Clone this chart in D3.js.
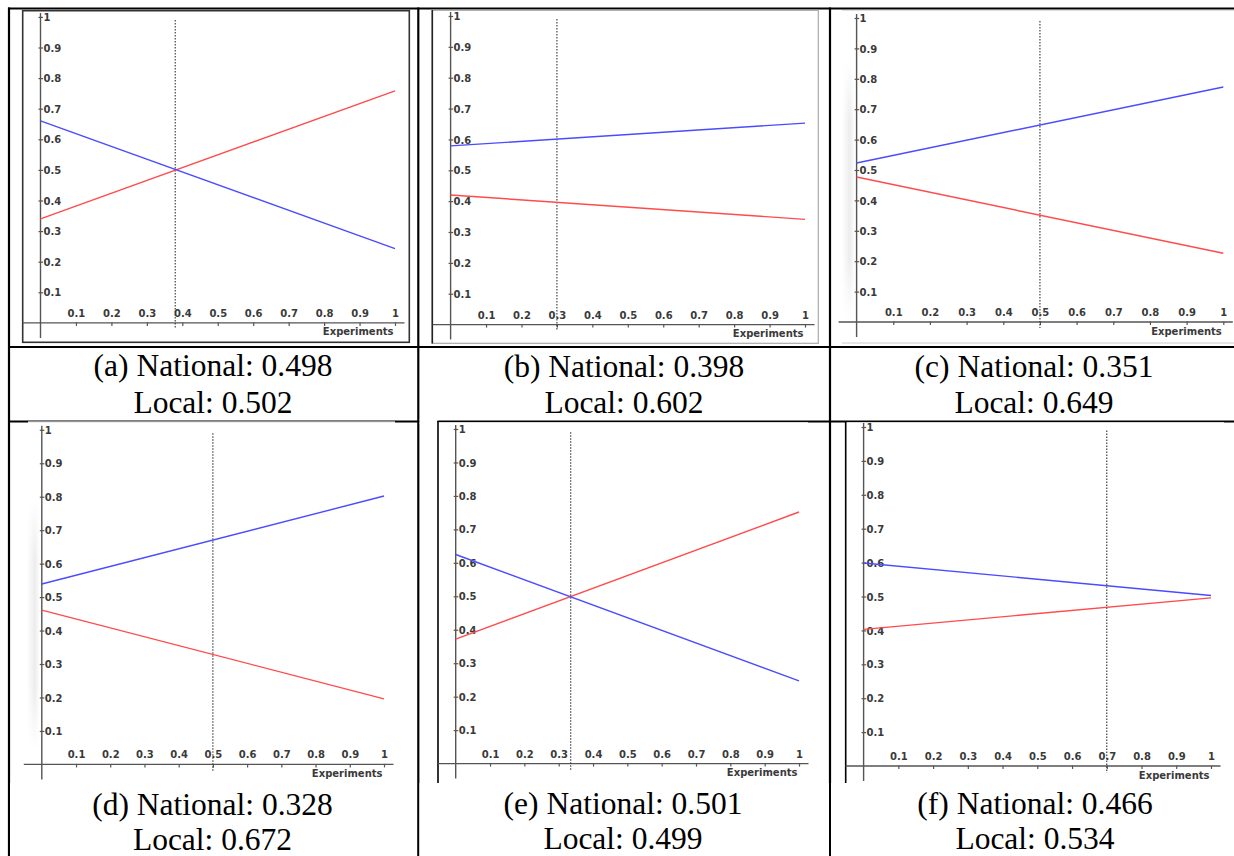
<!DOCTYPE html>
<html>
<head>
<meta charset="utf-8">
<script src="https://cdn.jsdelivr.net/npm/d3@7"></script>
<style>
  body { margin: 0; background: #fff; }
  svg { display: block; }
</style>
</head>
<body>
<svg></svg>
<script>
// values
const panelIds = ["a", "b", "c", "d", "e", "f"];
const nationalScore = [0.498, 0.398, 0.351, 0.328, 0.501, 0.466];
const localScore = [0.502, 0.602, 0.649, 0.672, 0.499, 0.534];
const splitAt = [0.38, 0.30, 0.50, 0.50, 0.335, 0.70];
const redStart = [0.34, 0.42, 0.477, 0.461, 0.372, 0.403];
const redEnd = [0.758, 0.341, 0.226, 0.196, 0.752, 0.496];
const blueStart = [0.66, 0.579, 0.523, 0.539, 0.625, 0.599];
const blueEnd = [0.243, 0.653, 0.773, 0.802, 0.247, 0.503];
const xTicks = [0.1, 0.2, 0.3, 0.4, 0.5, 0.6, 0.7, 0.8, 0.9, 1];
const yTicks = [0.1, 0.2, 0.3, 0.4, 0.5, 0.6, 0.7, 0.8, 0.9, 1];
const xLabel = "Experiments";

const width = 1234;
const height = 856;
const svg = d3.select("svg")
    .attr("width", width)
    .attr("height", height);

// pixel layout of each plot: where x=0..1 and y=0..1 land
const layout = [
    { px: [40.5, 395], py: [322.9, 16.9], cx: 213, base: [376, 413] },
    { px: [450.6, 805], py: [324.6, 16], cx: 624, base: [376.5, 413] },
    { px: [856.6, 1223.3], py: [322, 18], cx: 1034, base: [376.5, 413] },
    { px: [41.8, 384], py: [764.4, 429.8], cx: 212.5, base: [815, 849.5] },
    { px: [455.7, 799], py: [763.6, 429], cx: 623, base: [813.5, 848.5] },
    { px: [863.6, 1211], py: [766, 427], cx: 1035, base: [813.5, 849] }
];

const black = "#000";

const defs = svg.append("defs");
const shade = defs.append("linearGradient").attr("id", "shade")
    .attr("x1", 0).attr("x2", 1).attr("y1", 0).attr("y2", 0);
shade.append("stop").attr("offset", 0).attr("stop-color", "#fff");
shade.append("stop").attr("offset", 0.6).attr("stop-color", "#ececec");
shade.append("stop").attr("offset", 1).attr("stop-color", "#fff");
const fadeV = defs.append("linearGradient").attr("id", "fadeV")
    .attr("x1", 0).attr("x2", 0).attr("y1", 0).attr("y2", 1);
fadeV.append("stop").attr("offset", 0).attr("stop-color", "#fff").attr("stop-opacity", 1);
fadeV.append("stop").attr("offset", 0.25).attr("stop-color", "#fff").attr("stop-opacity", 0);
fadeV.append("stop").attr("offset", 0.75).attr("stop-color", "#fff").attr("stop-opacity", 0);
fadeV.append("stop").attr("offset", 1).attr("stop-color", "#fff").attr("stop-opacity", 1);

// table grid
const grid = svg.append("g");
grid.append("line").attr("x1", 8).attr("x2", width).attr("y1", 8.5).attr("y2", 8.5)
    .attr("stroke", black).attr("stroke-width", 2);
grid.append("line").attr("x1", 8).attr("x2", width).attr("y1", 347).attr("y2", 347)
    .attr("stroke", black).attr("stroke-width", 2.2);
grid.append("line").attr("x1", 8).attr("x2", width).attr("y1", 421.5).attr("y2", 421.5)
    .attr("stroke", black).attr("stroke-width", 2.2);
[9, 418.3, 830].forEach(x => {
    grid.append("line").attr("x1", x).attr("x2", x).attr("y1", 7.5).attr("y2", height)
        .attr("stroke", black).attr("stroke-width", 2.2);
});

// screenshot frames around each plot
const frames = svg.append("g");
// (a)
frames.append("rect").attr("x", 22.7).attr("y", 10.7).attr("width", 386.6).attr("height", 331.6)
    .attr("fill", "#fff").attr("stroke", "#333").attr("stroke-width", 1.6);
// (b)
frames.append("rect").attr("x", 432.3).attr("y", 10.3).attr("width", 386).attr("height", 333)
    .attr("fill", "#fff").attr("stroke", "#aaa").attr("stroke-width", 1.2);
frames.append("line").attr("x1", 432.3).attr("x2", 432.3).attr("y1", 10).attr("y2", 343.5)
    .attr("stroke", "#222").attr("stroke-width", 1.6);
// (c)
frames.append("rect").attr("x", 842).attr("y", 10).attr("width", 392).attr("height", 333)
    .attr("fill", "#fff").attr("stroke", "none");
frames.append("rect").attr("x", 842).attr("y", 60).attr("width", 13).attr("height", 260)
    .attr("fill", "url(#shade)");
frames.append("rect").attr("x", 842).attr("y", 60).attr("width", 13).attr("height", 260)
    .attr("fill", "url(#fadeV)");
frames.append("line").attr("x1", 842).attr("x2", width).attr("y1", 10.5).attr("y2", 10.5)
    .attr("stroke", "#ddd");
frames.append("line").attr("x1", 842).attr("x2", width).attr("y1", 343).attr("y2", 343)
    .attr("stroke", "#ccc");
// (d)
frames.append("rect").attr("x", 28).attr("y", 421.7).attr("width", 367).attr("height", 434)
    .attr("fill", "#fff");
frames.append("rect").attr("x", 27).attr("y", 500).attr("width", 13).attr("height", 250)
    .attr("fill", "url(#shade)");
frames.append("rect").attr("x", 27).attr("y", 500).attr("width", 13).attr("height", 250)
    .attr("fill", "url(#fadeV)");
frames.append("line").attr("x1", 28).attr("x2", 395).attr("y1", 422).attr("y2", 422)
    .attr("stroke", "#ddd");
// (e)
frames.append("rect").attr("x", 419.5).attr("y", 419.5).attr("width", 18).attr("height", 4)
    .attr("fill", "#fff");
frames.append("rect").attr("x", 438).attr("y", 422.3).attr("width", 370).attr("height", 361)
    .attr("fill", "#fff");
frames.append("line").attr("x1", 438).attr("x2", 808).attr("y1", 422.5).attr("y2", 422.5)
    .attr("stroke", "#ddd");
frames.append("line").attr("x1", 438).attr("x2", 438).attr("y1", 421).attr("y2", 783)
    .attr("stroke", black).attr("stroke-width", 1.6);
frames.append("rect").attr("x", 419.5).attr("y", 783).attr("width", 409.5).attr("height", 73)
    .attr("fill", "#fff");
// (f)
frames.append("rect").attr("x", 846.5).attr("y", 422.3).attr("width", 377.5).attr("height", 361)
    .attr("fill", "#fff");
frames.append("line").attr("x1", 845.7).attr("x2", 845.7).attr("y1", 421).attr("y2", 783)
    .attr("stroke", black).attr("stroke-width", 1.6);
frames.append("rect").attr("x", 831).attr("y", 783).attr("width", 403).attr("height", 73)
    .attr("fill", "#fff");
frames.append("rect").attr("x", 10).attr("y", 783).attr("width", 407).attr("height", 73)
    .attr("fill", "#fff");

const axisColor = "#555";
const tickFont = "DejaVu Sans, Verdana, sans-serif";
const labelStyle = sel => sel
    .style("font-family", tickFont).style("font-size", "10px")
    .style("font-weight", "bold").attr("fill", "#3a3a3a");

panelIds.forEach((id, i) => {
    const L = layout[i];
    const x = d3.scaleLinear().domain([0, 1]).range(L.px);
    const y = d3.scaleLinear().domain([0, 1]).range(L.py);
    const g = svg.append("g");

    // axis lines
    g.append("line")
        .attr("x1", x(0) - 18).attr("x2", x(1) + 9.5)
        .attr("y1", y(0)).attr("y2", y(0))
        .attr("stroke", axisColor).attr("stroke-width", 1.4);
    g.append("line")
        .attr("x1", x(0)).attr("x2", x(0))
        .attr("y1", y(1) - 4).attr("y2", y(0) + 15)
        .attr("stroke", axisColor).attr("stroke-width", 1.4);

    // x axis: labels above the line, ticks below
    const xAxis = g.append("g")
        .attr("transform", `translate(0,${y(0)})`)
        .call(d3.axisTop(x).tickValues(xTicks).tickSize(0).tickPadding(6).tickFormat(d => String(d)));
    xAxis.select(".domain").remove();
    xAxis.selectAll(".tick line").attr("y1", -0.5).attr("y2", 3).attr("stroke", axisColor).attr("stroke-width", 1.2);
    xAxis.selectAll(".tick text").attr("dy", "0em").call(labelStyle);

    // y axis: labels to the right of the line
    const yAxis = g.append("g")
        .attr("transform", `translate(${x(0)},0)`)
        .call(d3.axisRight(y).tickValues(yTicks).tickSize(0).tickPadding(3).tickFormat(d => String(d)));
    yAxis.select(".domain").remove();
    yAxis.selectAll(".tick line").attr("x1", -2).attr("x2", 2.5).attr("stroke", axisColor).attr("stroke-width", 1.2);
    yAxis.selectAll(".tick text").attr("dy", "0.36em").call(labelStyle);

    g.append("text")
        .attr("x", x(1) - 1.5).attr("y", y(0) + 12.5)
        .attr("text-anchor", "end")
        .call(labelStyle)
        .text(xLabel);

    // dotted split marker
    g.append("line")
        .attr("x1", x(splitAt[i])).attr("x2", x(splitAt[i]))
        .attr("y1", y(0.99)).attr("y2", y(-0.02))
        .attr("stroke", "#333").attr("stroke-width", 1.1)
        .attr("stroke-dasharray", "1.5,1.5");

    const line = d3.line().x(d => x(d[0])).y(d => y(d[1]));
    g.append("path")
        .datum([[0, redStart[i]], [1, redEnd[i]]])
        .attr("d", line)
        .attr("fill", "none").attr("stroke", "#ff4b4b").attr("stroke-width", 1.4);
    g.append("path")
        .datum([[0, blueStart[i]], [1, blueEnd[i]]])
        .attr("d", line)
        .attr("fill", "none").attr("stroke", "#4b4bff").attr("stroke-width", 1.4);

    // caption
    const cap = svg.append("g")
        .style("font-family", "Liberation Serif, Times New Roman, serif")
        .style("font-size", "31.5px")
        .attr("fill", black)
        .attr("text-anchor", "middle");
    cap.append("text").attr("x", L.cx).attr("y", L.base[0])
        .text(`(${id}) National: ${nationalScore[i].toFixed(3)}`);
    cap.append("text").attr("x", L.cx).attr("y", L.base[1])
        .text(`Local: ${localScore[i].toFixed(3)}`);
});
</script>
</body>
</html>
